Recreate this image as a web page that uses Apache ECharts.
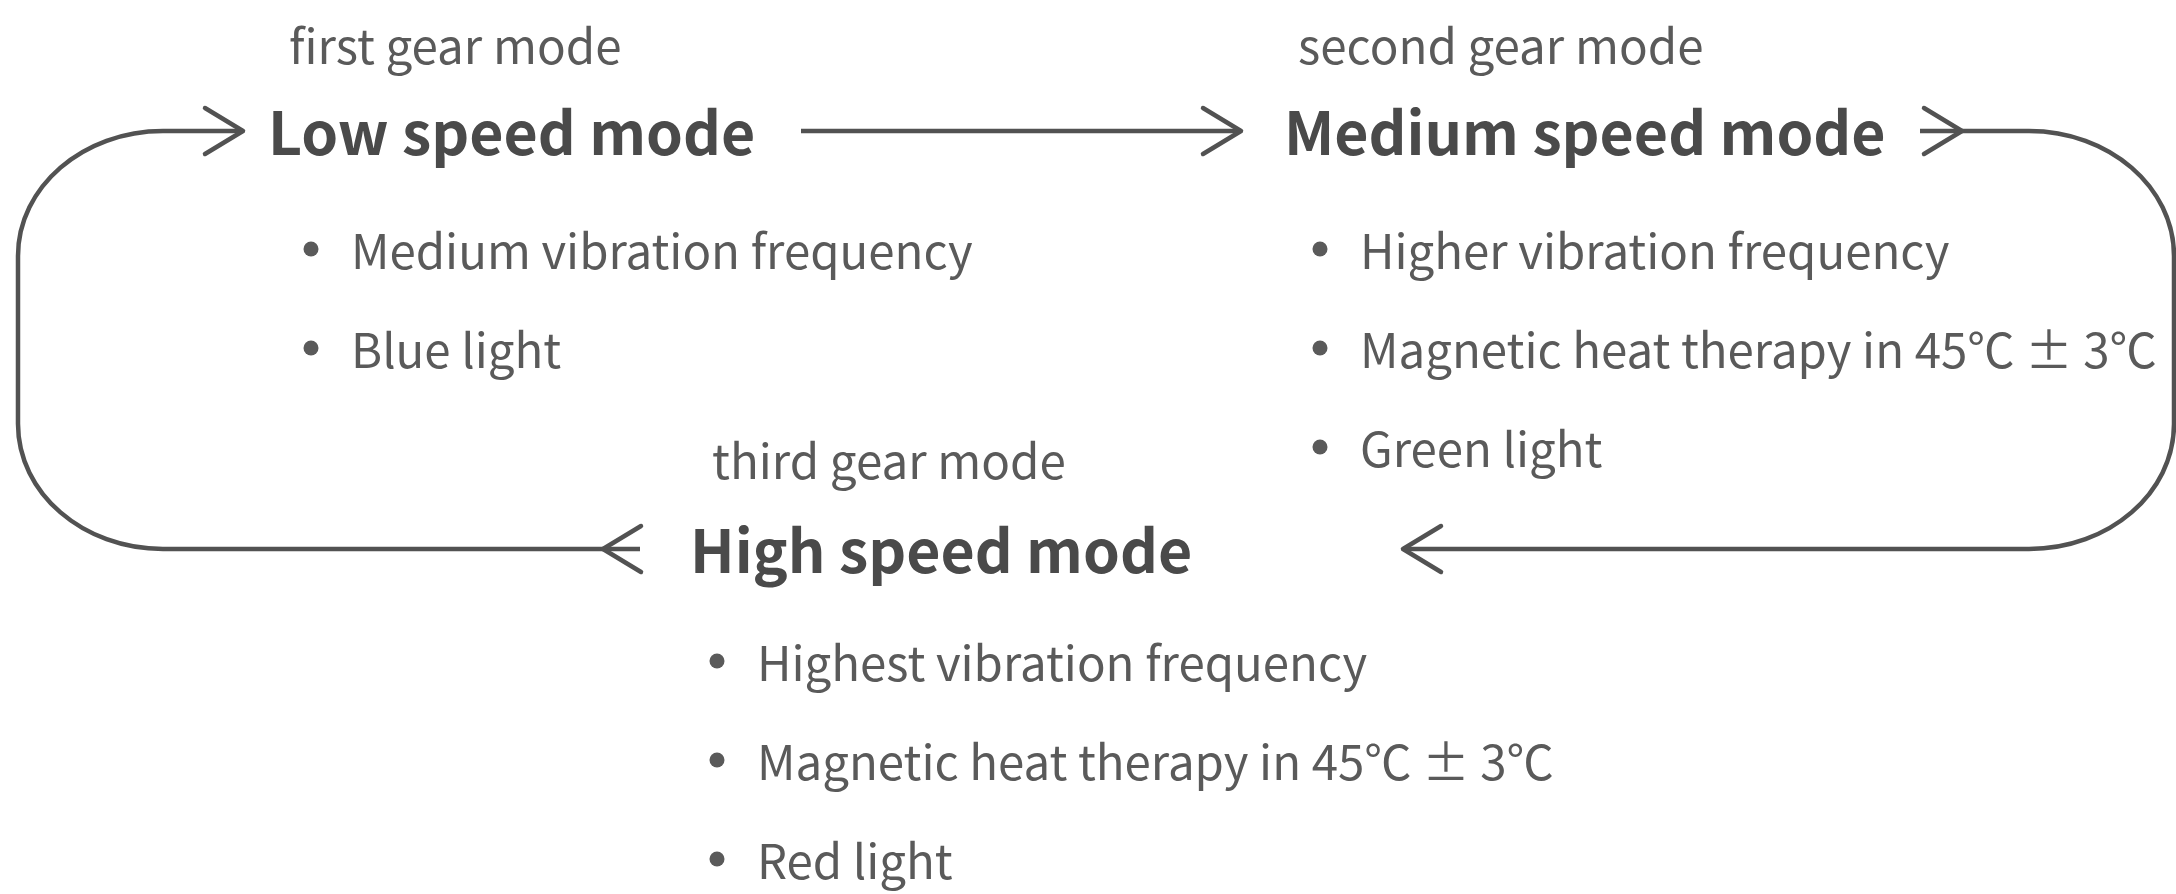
<!DOCTYPE html>
<html>
<head>
<meta charset="utf-8">
<title>Speed modes</title>
<script src="https://cdn.jsdelivr.net/npm/echarts@6/dist/echarts.min.js"></script>
<style>
  html, body { margin: 0; padding: 0; background: #fff; }
  #main { width: 2176px; height: 894px; }
</style>
</head>
<body>
<div id="main"></div>
<script>
var modeNames = ['Low speed mode', 'Medium speed mode', 'High speed mode'];
var gearNames = ['first gear mode', 'second gear mode', 'third gear mode'];
var modeFeatures = [
  ['Medium vibration frequency', 'Blue light'],
  ['Higher vibration frequency', 'Magnetic heat therapy in 45℃ ± 3℃', 'Green light'],
  ['Highest vibration frequency', 'Magnetic heat therapy in 45℃ ± 3℃', 'Red light']
];

// layout in the hidden axis space (x to the right, y downwards)
var gearPos = [[289, 46], [1298, 46], [712, 461]];
var modePos = [[268, 133], [1284, 133], [690, 551]];
var featurePos = [[311, 251], [1320, 251], [717, 663]];
var featureStep = 99;
var bulletGap = 40;

// connectors: corner points of each flow line
var connectors = [
  [[801, 131], [1241, 131]],
  [[1920, 131], [2174, 131], [2174, 549], [1403, 549]],
  [[640, 549], [18, 549], [18, 131], [243, 131]]
];
// arrow heads: tip x, tip y, direction (1 = right, -1 = left)
var arrowHeads = [
  [1241, 131, 1], [1962, 131, 1], [1403, 549, -1], [603, 549, -1], [243, 131, 1]
];

var FONT = "'Noto Sans CJK SC', 'Noto Sans', sans-serif";
var lineColor = '#525252';
var textColor = '#5a5a5a';

// text items built from the arrays above
var texts = [];
gearNames.forEach(function (t, i) {
  texts.push({ value: gearPos[i], text: t, size: 47.5, weight: 'normal', color: textColor });
});
modeNames.forEach(function (t, i) {
  texts.push({ value: modePos[i], text: t, size: 59, weight: 'bold', color: '#4a4a4a' });
});
var bullets = [];
modeFeatures.forEach(function (list, i) {
  list.forEach(function (t, j) {
    var y = featurePos[i][1] + j * featureStep;
    bullets.push([featurePos[i][0], y]);
    texts.push({ value: [featurePos[i][0] + bulletGap, y], text: t, size: 47.4, weight: 'normal', color: textColor });
  });
});

function cornerPath(pts, api) {
  var p = pts.map(function (d) { return api.coord(d); });
  var rx = api.size([145, 0])[0], ry = api.size([0, 125])[1];
  var k = 0.5523;
  var d = 'M' + p[0][0] + ' ' + p[0][1];
  for (var i = 1; i < p.length - 1; i++) {
    var a = p[i - 1], c = p[i], b = p[i + 1];
    var inX = Math.sign(c[0] - a[0]), inY = Math.sign(c[1] - a[1]);
    var outX = Math.sign(b[0] - c[0]), outY = Math.sign(b[1] - c[1]);
    var rIn = inX ? rx : ry, rOut = outX ? rx : ry;
    var s = [c[0] - inX * rIn, c[1] - inY * rIn];
    var e = [c[0] + outX * rOut, c[1] + outY * rOut];
    d += ' L' + s[0] + ' ' + s[1];
    d += ' C' + (s[0] + inX * rIn * k) + ' ' + (s[1] + inY * rIn * k) + ' ' +
      (e[0] - outX * rOut * k) + ' ' + (e[1] - outY * rOut * k) + ' ' + e[0] + ' ' + e[1];
  }
  var last = p[p.length - 1];
  d += ' L' + last[0] + ' ' + last[1];
  return d;
}

var chart = echarts.init(document.getElementById('main'));
var option = {
  backgroundColor: '#ffffff',
  animation: false,
  grid: { left: 0, right: 0, top: 0, bottom: 0 },
  xAxis: { type: 'value', min: 0, max: 2176, show: false },
  yAxis: { type: 'value', min: 0, max: 894, inverse: true, show: false },
  series: [
    {
      type: 'custom',
      name: 'connectors',
      data: connectors.map(function (c, i) { return [i]; }),
      renderItem: function (params, api) {
        return {
          type: 'path',
          shape: { pathData: cornerPath(connectors[params.dataIndex], api) },
          style: { fill: null, stroke: lineColor, lineWidth: 4.5, lineCap: 'butt' }
        };
      }
    },
    {
      type: 'custom',
      name: 'arrows',
      data: arrowHeads,
      renderItem: function (params, api) {
        var tip = api.coord([api.value(0), api.value(1)]);
        var dir = api.value(2);
        return {
          type: 'polyline',
          shape: { points: [[tip[0] - dir * 38, tip[1] - 23], tip, [tip[0] - dir * 38, tip[1] + 23]] },
          style: { fill: null, stroke: lineColor, lineWidth: 4.5, lineCap: 'round', lineJoin: 'round' }
        };
      }
    },
    {
      type: 'custom',
      name: 'bullets',
      data: bullets,
      renderItem: function (params, api) {
        var c = api.coord([api.value(0), api.value(1)]);
        return { type: 'circle', shape: { cx: c[0], cy: c[1] - 2, r: 7.5 }, style: { fill: textColor } };
      }
    },
    {
      type: 'custom',
      name: 'texts',
      data: texts,
      renderItem: function (params, api) {
        var t = texts[params.dataIndex];
        var c = api.coord(t.value);
        return {
          type: 'text',
          x: c[0], y: c[1],
          style: {
            text: t.text, fontFamily: FONT, fontSize: t.size, fontWeight: t.weight,
            fill: t.color, align: 'left', verticalAlign: 'middle'
          }
        };
      }
    }
  ]
};
chart.setOption(option);
</script>
</body>
</html>
